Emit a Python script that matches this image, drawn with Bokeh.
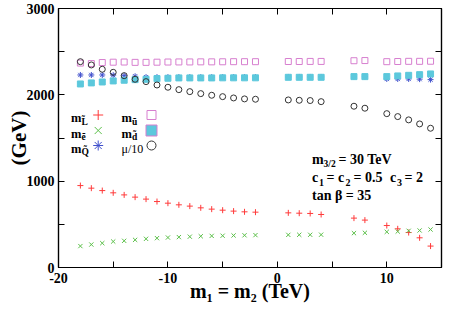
import math
from bokeh.plotting import figure
from bokeh.models import Label, LinearAxis, FixedTicker
from bokeh.embed import file_html
from bokeh.resources import INLINE

# ---------------- data ----------------
m1 = [-18, -17, -16, -15, -14, -13, -12, -11, -10, -9, -8, -7, -6, -5, -4, -3, -2,
      1, 2, 3, 4, 7, 8, 10, 11, 12, 13, 14]
m_L = [949, 919, 891, 865, 841, 815, 792, 764, 745, 726, 711, 691, 676, 664, 653, 645, 641,
       633, 629, 626, 614, 572, 549, 486, 448, 405, 344, 248]
m_e = [248, 266, 282, 301, 309, 320, 332, 340, 347, 352, 357, 362, 366, 368, 371, 373, 375,
       378, 379, 379, 380, 398, 402, 413, 417, 425, 429, 440]
m_Q = [2230, 2230, 2230, 2228, 2222, 2215, 2205, 2205, 2205, 2205, 2205, 2205, 2205, 2205, 2205, 2205, 2205,
       2207, 2207, 2207, 2207, 2210, 2210, 2184, 2184, 2184, 2182, 2176]
m_u = [2368, 2362, 2374, 2378, 2380, 2376, 2376, 2378, 2380, 2381, 2381, 2382, 2382, 2383, 2384, 2384, 2384,
       2386, 2386, 2387, 2387, 2395, 2397, 2384, 2386, 2388, 2388, 2389]
m_d = [2126, 2138, 2149, 2161, 2169, 2176, 2180, 2188, 2192, 2196, 2196, 2196, 2196, 2197, 2197, 2197, 2197,
       2203, 2203, 2203, 2203, 2211, 2211, 2211, 2219, 2226, 2234, 2242]
mu10 = [2384, 2346, 2296, 2261, 2222, 2180, 2153, 2114, 2088, 2060, 2037, 2014, 1995, 1979, 1964, 1953, 1949,
        1941, 1937, 1934, 1921, 1868, 1845, 1782, 1748, 1710, 1663, 1613]

x_ticks = [-20, -15, -10, -5, 0, 5, 10, 15]
x_tick_labels = ["-20", "", "-10", "", "0", "", "10", ""]
y_ticks = [0, 500, 1000, 1500, 2000, 2500, 3000]
y_tick_labels = ["0", "", "1000", "", "2000", "", "3000"]
x_title = "m\u2081 = m\u2082 (TeV)"
y_title = "(GeV)"

# ---------------- layout ----------------
W, H = 449, 319
FL, FR, FT, FB = 58, 441, 8, 267
XR = (-20, 15)
YR = (0, 3000)
FONT = "Liberation Serif"

RED = "#ff3b3b"
GREEN = "#5cc04a"
BLUE = "#4050cc"
PINK = "#d77fcf"
CYAN = "#5cc8dc"
GREY = "#333333"


def X(px):
    return XR[0] + (px - FL) * (XR[1] - XR[0]) / (FR - FL)


def Y(py):
    return YR[0] + (FB - py) * (YR[1] - YR[0]) / (FB - FT)


p = figure(width=W, height=H, x_range=XR, y_range=YR, output_backend="svg",
           toolbar_location=None, min_border_left=FL, min_border_right=W - FR,
           min_border_top=FT, min_border_bottom=H - FB)
p.background_fill_color = "white"
p.border_fill_color = "white"
p.outline_line_color = "black"
p.outline_line_width = 1.2
p.xgrid.visible = False
p.ygrid.visible = False


def style_axis(ax, ticks, labels, show):
    ax.ticker = FixedTicker(ticks=ticks)
    ax.major_label_overrides = dict(zip(ticks, labels if show else [""] * len(ticks)))
    ax.major_tick_in = 6
    ax.major_tick_out = 0
    ax.minor_tick_line_color = None
    ax.major_tick_line_color = "black"
    ax.major_tick_line_width = 1
    ax.axis_line_color = "black"
    ax.axis_line_width = 1.2
    ax.major_label_text_font = FONT
    ax.major_label_text_font_style = "bold"
    ax.major_label_text_font_size = "14px" if show else "0px"
    ax.major_label_text_color = "black"
    ax.axis_label_text_font = FONT
    ax.axis_label_text_font_style = "bold"
    ax.axis_label_text_color = "black"
    if not show:
        ax.major_label_standoff = 0


xa = p.xaxis[0]
style_axis(xa, x_ticks, x_tick_labels, True)
xa.major_label_standoff = 5
xa.axis_label = x_title
xa.axis_label_text_font_size = "20px"
xa.axis_label_standoff = -6

ya = p.yaxis[0]
style_axis(ya, y_ticks, y_tick_labels, True)
ya.major_label_standoff = 4
ya.axis_label = y_title
ya.axis_label_text_font_size = "21px"
ya.axis_label_standoff = -7

top_ax = LinearAxis()
style_axis(top_ax, x_ticks, x_tick_labels, False)
p.add_layout(top_ax, "above")
right_ax = LinearAxis()
style_axis(right_ax, y_ticks, y_tick_labels, False)
p.add_layout(right_ax, "right")

# ---------------- data marks ----------------
p.scatter(m1, m_L, marker="cross", size=6, line_color=RED, line_width=1)
p.scatter(m1, m_e, marker="x", size=6, line_color=GREEN, line_width=1)
p.scatter(m1, m_Q, marker="asterisk", size=6, line_color=BLUE, line_width=1)
p.scatter(m1, m_d, marker="square", size=6, fill_color=CYAN, line_color=CYAN)
p.scatter(m1, m_u, marker="square", size=6, fill_color=None, line_color=PINK, line_width=1)
p.scatter(m1, mu10, marker="circle", size=6, fill_color=None, line_color=GREY, line_width=1)


# ---------------- texts ----------------
def txt(px, py, s, size, style="bold", align="left", baseline="alphabetic", angle=0.0):
    p.add_layout(Label(x=X(px), y=Y(py), text=s, text_font=FONT, text_font_style=style,
                       text_font_size=f"{size}px", text_align=align, text_baseline=baseline,
                       angle=angle, text_color="black"))


# parameter box
txt(311.5, 158.5, "m", 14)
txt(323, 163, "3/2", 9.5)
txt(338, 158.5, "= 30 TeV", 14)
txt(311.5, 177, "c", 14)
txt(318.5, 182, "1", 10)
txt(326, 177, "= c", 14)
txt(345, 182, "2", 10)
txt(353, 177, "= 0.5", 14)
txt(389.5, 177, "c", 14)
txt(396.5, 182, "3", 10)
txt(404, 177, "= 2", 14)
txt(311.5, 194.5, "tan β = 35", 14)

# legend
leg_rows = [117.5, 133, 148]
col1 = [("L\u0303", "cross", RED), ("\u1ebd", "x", GREEN), ("Q\u0303", "asterisk", BLUE)]
col2 = [("\u0169", "square_open", PINK), ("d\u0303", "square_fill", CYAN), (None, "circle", GREY)]
for (sub, mk, col), by in zip(col1, leg_rows):
    txt(70.5, by, "m", 12.5)
    txt(81, by + 3.5, sub, 9.5)
    p.scatter([X(97.7)], [Y(by - 3)], marker=mk, size=10, line_color=col, line_width=1)
for (sub, mk, col), by in zip(col2, leg_rows):
    if sub is None:
        txt(121, by, "\u03bc/10", 12, style="normal")
    else:
        txt(121, by, "m", 12.5)
        txt(131.5, by + 3.5, sub, 9.5)
    cy = Y(by - 3)
    if mk == "square_open":
        p.scatter([X(151)], [cy], marker="square", size=9, fill_color=None, line_color=col, line_width=1)
    elif mk == "square_fill":
        p.scatter([X(151)], [cy], marker="square", size=11, fill_color=col, line_color=PINK, line_width=1)
    else:
        p.scatter([X(151)], [cy], marker="circle", size=9, fill_color=None, line_color=col, line_width=1)

html = file_html(p, INLINE)
html = html.replace("<head>", "<head><style>html,body{margin:0;padding:0;overflow:hidden;}</style>", 1)
open("out.html", "w").write(html)
